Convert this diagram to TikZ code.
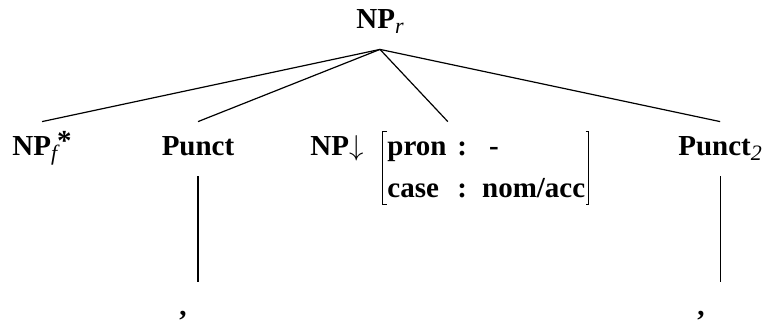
\documentclass[tikz,border=0pt]{standalone}
\usepackage{fontspec}
\setmainfont{Liberation Serif}
\usepackage{amsmath}
\usetikzlibrary{calc}
\newcommand{\sbs}[1]{\raisebox{-2.5pt}{\normalfont\fontsize{11}{11}\selectfont\itshape #1}}
\tikzset{
  treelabel/.style={inner xsep=0pt, inner ysep=7pt, text height=9.5pt, text depth=3.5pt,
    font=\fontsize{14.5}{21}\selectfont\bfseries},
  featbox/.style={inner sep=0pt, font=\fontsize{14.5}{21}\selectfont\bfseries},
  edge/.style={line width=0.6pt},
  bracket/.style={line width=0.5pt}
}
\begin{document}
\begin{tikzpicture}[x=0.5pt,y=-0.5pt]
                            \useasboundingbox (0,0) rectangle (762,322);%

                            % Drawing root
                            \node [treelabel, anchor=base] (root) at (380,28) {NP\sbs{r}};%

                            % Drawing daughters
                            \node [treelabel, anchor=base west] (npf) at (12,155) {NP\sbs{f}\raisebox{2.5pt}{*}};%
                            \node [treelabel, anchor=base] (punct) at (198,155) {Punct};%
                            \node [treelabel, anchor=base west] (npd) at (310,155) {NP$\downarrow$};%
                            \node [featbox, anchor=base west] (fs) at (387,155) {\begin{tabular}[t]{@{}l@{\hspace{5.5pt}}c@{\hspace{7.5pt}}l@{}}
                              pron & : & \hspace{3.5pt}-\\
                              case & : & nom/acc
                            \end{tabular}};%
                            \node [treelabel, anchor=base west] (punctb) at (678,155) {Punct\sbs{2}};%

                            % Drawing feature brackets
                            \draw [bracket] ($(fs.north west)+(0,6)$) -- ++(-5,0) |- ($(fs.south west)+(0,-6)$);%
                            \draw [bracket] ($(fs.north east)+(0,6)$) -- ++(3,0) |- ($(fs.south east)+(0,-6)$);%
                            \coordinate (npfs) at ($(npd.west)!0.5!(fs.east)$);%

                            % Drawing leaves
                            \node [treelabel, anchor=base] (commaa) at (183,315) {,};%
                            \node [treelabel, anchor=base] (commab) at (701,315) {,};%

                            % Drawing edges
                            \draw [edge] (root.south) -- (npf.north);%
                            \draw [edge] (root.south) -- (punct.north);%
                            \draw [edge] (root.south) -- (npfs |- npd.north);%
                            \draw [edge] (root.south) -- (punctb.north);%
                            \draw [edge] (punct.south) -- (punct.south |- commaa.north);%
                            \draw [edge] (punctb.south) -- (punctb.south |- commab.north);%
\end{tikzpicture}
\end{document}
